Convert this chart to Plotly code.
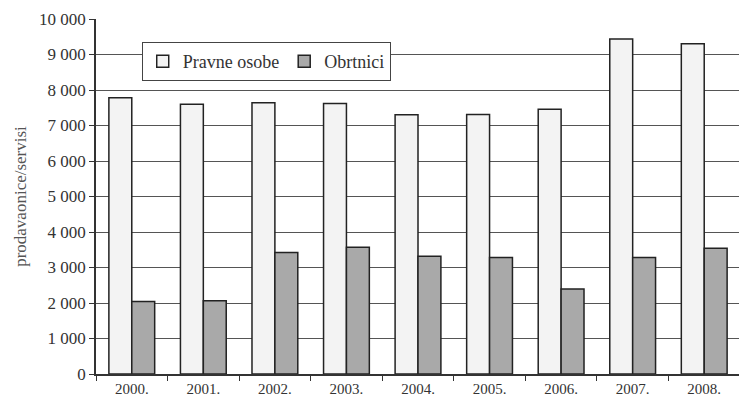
import plotly.graph_objects as go

godine = ["2000.", "2001.", "2002.", "2003.", "2004.", "2005.", "2006.", "2007.", "2008."]
pravne_osobe = [7780, 7600, 7640, 7620, 7300, 7310, 7460, 9440, 9300]
obrtnici = [2040, 2060, 3420, 3570, 3315, 3280, 2395, 3280, 3540]

fig = go.Figure()
fig.add_trace(go.Bar(x=godine, y=pravne_osobe, name="Pravne osobe",
                     marker=dict(color="#f3f3f3", line=dict(color="#222", width=1.5))))
fig.add_trace(go.Bar(x=godine, y=obrtnici, name="Obrtnici",
                     marker=dict(color="#a9a9a9", line=dict(color="#222", width=1.5))))

# stranica ima 8px margine u pregledniku, pa je figura malo manja
fig.update_layout(
    width=739, height=389,
    margin=dict(l=88, r=7, t=11, b=23),
    plot_bgcolor="white", paper_bgcolor="white",
    font=dict(family="Liberation Serif", size=17, color="#333"),
    separators=", ",
    barmode="group", bargap=0.36, bargroupgap=0,
    legend=dict(orientation="h", x=0.071, y=0.935, xanchor="left", yanchor="top",
                bordercolor="#444", borderwidth=1, bgcolor="white",
                font=dict(size=18), itemwidth=30, tracegroupgap=0),
)
fig.update_xaxes(showgrid=False, showline=True, linecolor="#333", linewidth=1.5,
                 ticks="outside", tickson="boundaries", ticklen=5, tickcolor="#333",
                 tickfont=dict(size=15), automargin=False)
fig.update_yaxes(range=[0, 10000], dtick=1000, tickformat=",d",
                 showgrid=True, gridcolor="#555", gridwidth=1,
                 showline=True, linecolor="#333", linewidth=1.5,
                 ticks="outside", ticklen=5, tickcolor="#333",
                 tickfont=dict(size=17), automargin=False,
                 title=dict(text="prodavaonice/servisi", standoff=8,
                            font=dict(size=17, color="#555")))

fig.write_html("out.html")
